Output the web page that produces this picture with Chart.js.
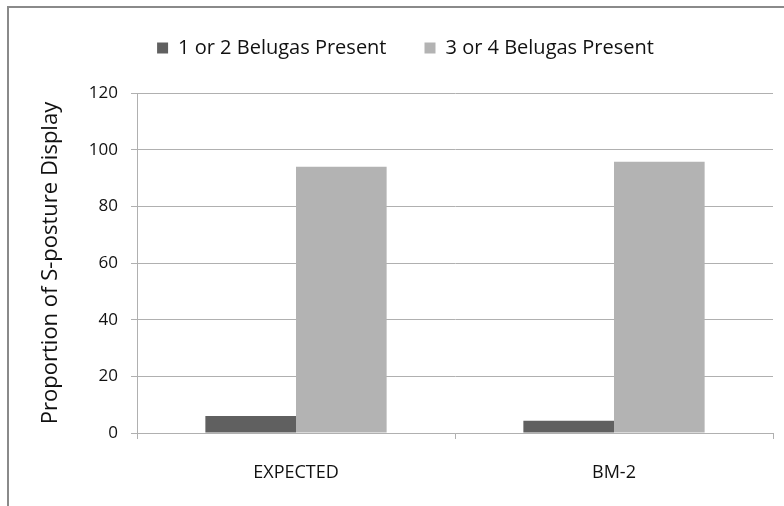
<!DOCTYPE html>
<html>
<head>
<meta charset="utf-8">
<script src="https://cdn.jsdelivr.net/npm/chart.js@4"></script>
<style>
  html, body { margin: 0; padding: 0; background: #fff; }
  #wrap { position: relative; width: 784px; height: 506px; overflow: hidden; }
  #frame { position: absolute; left: 7px; top: 6px; width: 800px; height: 520px;
           border-left: 2px solid #8a8a8a; border-top: 2px solid #8a8a8a; }
  canvas { position: absolute; left: 0; top: 0; }
</style>
</head>
<body>
<div id="wrap">
  <div id="frame"></div>
  <canvas id="c" width="784" height="506"></canvas>
</div>
<script>
// Groups along the x axis
const categories = ['EXPECTED', 'BM-2'];
// Share of S-posture displays, by number of belugas present
const fewBelugas = [6, 4.3];
const manyBelugas = [94, 95.7];
// Y axis ticks
const yTicks = [0, 20, 40, 60, 80, 100, 120];

const FONT = '"Open Sans", "DejaVu Sans", sans-serif';
const GRID = '#b0b0b0';

// Leaves some room between the legend row and the plot
const legendGap = {
  id: 'legendGap',
  beforeInit(chart) {
    const fit = chart.legend.fit;
    chart.legend.fit = function () {
      fit.call(this);
      this.height += 25;
    };
  }
};

new Chart(document.getElementById('c'), {
  type: 'bar',
  data: {
    labels: categories,
    datasets: [
      { label: '1 or 2 Belugas Present', data: fewBelugas, backgroundColor: '#606060',
        categoryPercentage: 0.57, barPercentage: 1.0 },
      { label: '3 or 4 Belugas Present', data: manyBelugas, backgroundColor: '#b3b3b3',
        categoryPercentage: 0.57, barPercentage: 1.0 }
    ]
  },
  plugins: [legendGap],
  options: {
    responsive: false,
    animation: false,
    layout: { padding: { left: 38, right: 11, top: 0, bottom: 0 } },
    plugins: {
      legend: {
        position: 'top',
        labels: {
          font: { family: FONT, size: 20 },
          color: '#111',
          boxWidth: 11,
          boxHeight: 11,
          padding: 38
        }
      },
      tooltip: { enabled: false }
    },
    scales: {
      x: {
        grid: { display: true, offset: true, drawOnChartArea: false, drawTicks: true,
                tickLength: 6, color: GRID },
        border: { color: GRID, width: 1 },
        ticks: { font: { family: FONT, size: 18 }, color: '#111', padding: 23 },
        afterFit: (s) => { s.height = 73; }
      },
      y: {
        min: 0, max: 120,
        afterBuildTicks: (s) => { s.ticks = yTicks.map(v => ({ value: v })); },
        grid: { color: GRID, tickLength: 6 },
        border: { color: GRID, width: 1 },
        ticks: { font: { family: FONT, size: 17 }, color: '#111', padding: 13 },
        title: { display: true, text: 'Proportion of S-posture Display',
                 font: { family: FONT, size: 22 }, color: '#111', padding: 0 },
        afterFit: (s) => { s.width = 99; }
      }
    }
  }
});
</script>
</body>
</html>
